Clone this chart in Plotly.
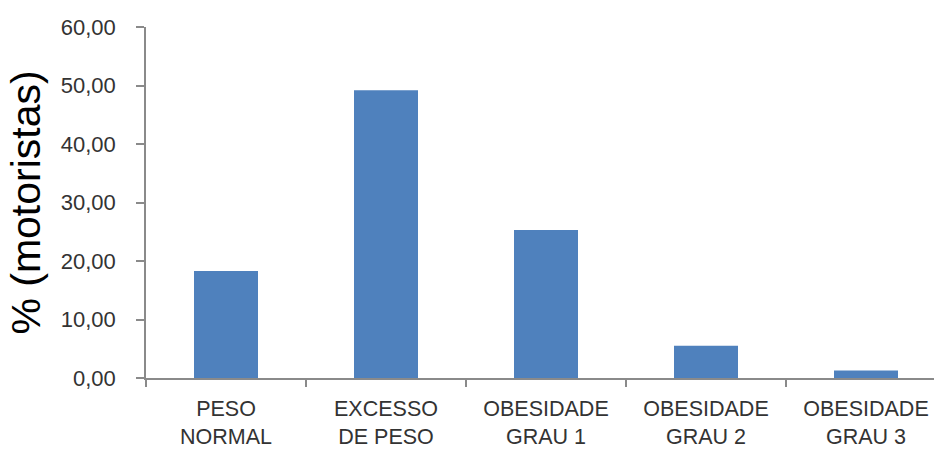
import plotly.graph_objects as go

# Body-mass categories of the drivers and their share (%)
categories = ["PESO<br>NORMAL", "EXCESSO<br>DE PESO", "OBESIDADE<br>GRAU 1",
              "OBESIDADE<br>GRAU 2", "OBESIDADE<br>GRAU 3"]
percent = [18.3, 49.2, 25.3, 5.5, 1.3]
y_ticks = [0, 10, 20, 30, 40, 50, 60]

AXIS_GRAY = "#8a8a8a"
TEXT = "#333333"
BAR_BLUE = "#4F81BD"

fig = go.Figure(
    go.Bar(
        x=categories,
        y=percent,
        marker=dict(color=BAR_BLUE, line=dict(width=0)),
        hoverinfo="x+y",
    )
)

fig.update_layout(
    width=934,
    height=450,
    margin=dict(l=146, r=0, t=27, b=72, autoexpand=False),
    paper_bgcolor="white",
    plot_bgcolor="white",
    bargap=0.6,
    separators=",.",
    showlegend=False,
    font=dict(family="Liberation Sans, Arial, sans-serif", color=TEXT),
)

fig.update_xaxes(
    range=[-0.5, 4.425],
    tickson="boundaries",
    ticks="outside",
    ticklen=7,
    tickwidth=1.5,
    tickcolor=AXIS_GRAY,
    showline=True,
    linecolor=AXIS_GRAY,
    linewidth=1.5,
    showgrid=False,
    tickfont=dict(size=21.5, color=TEXT),
    ticklabelstandoff=10,
)

fig.update_yaxes(
    range=[0, 60],
    tickmode="array",
    tickvals=y_ticks,
    tickformat=".2f",
    ticks="outside",
    ticklen=8,
    tickwidth=1.5,
    tickcolor=AXIS_GRAY,
    showline=True,
    linecolor=AXIS_GRAY,
    linewidth=1.5,
    showgrid=False,
    zeroline=False,
    tickfont=dict(size=22, color=TEXT),
    ticklabelstandoff=16,
    title=dict(text="% (motoristas)", font=dict(size=41, color="#000000"), standoff=7),
)

fig.write_html("out.html")
